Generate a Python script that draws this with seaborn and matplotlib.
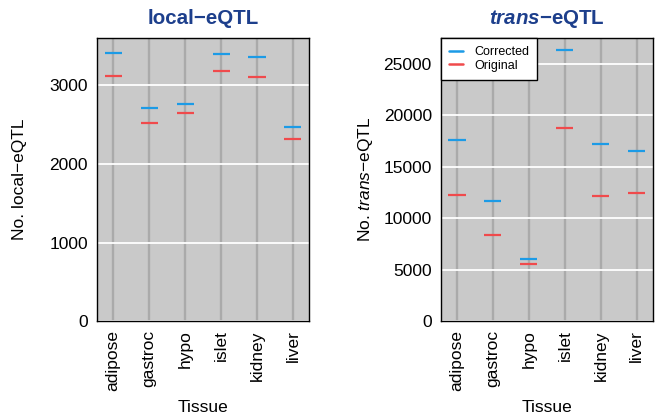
# ----- libraries
import matplotlib
matplotlib.use("Agg")
import matplotlib.pyplot as plt
import pandas as pd
import seaborn as sns

# ----- data
tissues = ["adipose", "gastroc", "hypo", "islet", "kidney", "liver"]
local_corrected = [3411, 2716, 2767, 3398, 3364, 2470]
local_original = [3119, 2521, 2653, 3182, 3106, 2318]
trans_corrected = [17590, 11640, 6050, 26370, 17200, 16520]
trans_original = [12290, 8360, 5560, 18730, 12160, 12480]
series = ["Corrected", "Original"]

# ----- style
sns.set_style("white")
plt.rcParams["font.family"] = ["Liberation Sans", "DejaVu Sans"]
plt.rcParams["mathtext.fontset"] = "custom"
plt.rcParams["mathtext.rm"] = "Liberation Sans"
plt.rcParams["mathtext.it"] = "Liberation Sans:italic"
plt.rcParams["mathtext.bf"] = "Liberation Sans:bold"
plt.rcParams["mathtext.bfit"] = "Liberation Sans:bold:italic"
plt.rcParams["text.color"] = "black"
plt.rcParams["axes.labelcolor"] = "black"
plt.rcParams["xtick.color"] = "black"
plt.rcParams["ytick.color"] = "black"

colors = {"Corrected": "#1c9be6", "Original": "#f04a4c"}
title_color = "#1d3f8c"


def make_df(corr, orig):
    return pd.DataFrame({
        "Tissue": tissues * 2,
        "n": corr + orig,
        "type": [series[0]] * len(tissues) + [series[1]] * len(tissues),
    })


def panel(ax, df, ymax, yticks, ylabel, title, ypad):
    ax.set_facecolor("#c9c9c9")
    for i in range(len(tissues)):
        ax.axvline(i, color="#aaaaaa", lw=1.7, zorder=0)
    for t in yticks:
        ax.axhline(t, color="white", lw=1.3, zorder=0)
    sns.scatterplot(data=df, x="Tissue", y="n", hue="type", palette=colors,
                    marker="_", s=150, linewidth=1.6, ax=ax, legend=False,
                    zorder=3)
    ax.set_xlim(-0.45, len(tissues) - 0.55)
    ax.set_ylim(0, ymax)
    ax.set_yticks(yticks)
    ax.set_xticks(range(len(tissues)))
    ax.set_xticklabels(tissues, rotation=90, fontsize=12.5)
    ax.tick_params(axis="y", labelsize=12.5, length=3, width=0.8, color="#333333")
    ax.tick_params(axis="x", length=3, width=0.8, color="#333333")
    for s in ax.spines.values():
        s.set_color("black")
        s.set_linewidth(1.0)
    ax.set_xlabel("Tissue", fontsize=12.5, labelpad=6)
    ax.set_ylabel(ylabel, fontsize=12.5, labelpad=ypad)
    ax.set_title(title, fontsize=14.8, fontweight="bold", color=title_color, pad=10)


# ----- main
fig = plt.figure(figsize=(6.55, 4.16), dpi=100)
ax1 = fig.add_axes([0.148, 0.228, 0.324, 0.681])
ax2 = fig.add_axes([0.673, 0.228, 0.324, 0.681])

panel(ax1, make_df(local_corrected, local_original), 3605,
      [0, 1000, 2000, 3000], "No. local\u2212eQTL", "local\u2212eQTL", 16)
panel(ax2, make_df(trans_corrected, trans_original), 27540,
      [0, 5000, 10000, 15000, 20000, 25000],
      r"No. $\mathit{trans}$" + "\u2212eQTL",
      r"$\mathbfit{trans}$" + "\u2212eQTL", 6)

handles = [plt.Line2D([], [], color=colors[s], lw=1.8) for s in series]
leg = ax2.legend(handles, series, loc="upper left", bbox_to_anchor=(0, 1),
                 borderaxespad=0, frameon=True, fancybox=False, fontsize=9,
                 handlelength=1.1, borderpad=0.65, labelspacing=0.15,
                 handletextpad=0.9, framealpha=1)
leg.get_frame().set_facecolor("white")
leg.get_frame().set_edgecolor("black")
leg.get_frame().set_linewidth(1.0)

fig.savefig("out.png", dpi=100)
